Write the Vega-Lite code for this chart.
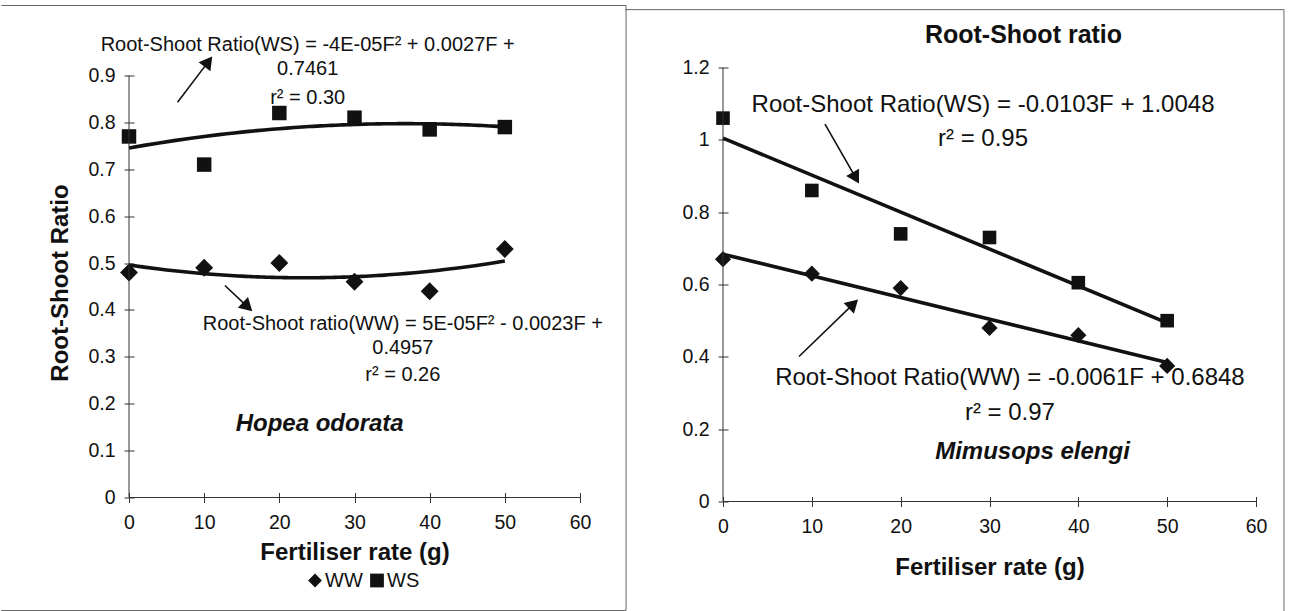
{
  "$schema": "https://vega.github.io/schema/vega-lite/v6.json",
  "padding": {"left": 0, "top": 4.5, "right": 0, "bottom": 0},
  "background": "white",
  "spacing": -3,
  "config": {
    "font": "Liberation Sans",
    "view": {"stroke": null},
    "axis": {"domain": false, "offset": -5, "tickSize": 10, "tickColor": "#333", "tickWidth": 1, "labelFontSize": 19.5, "labelColor": "#111", "labelPadding": 9, "titleColor": "#111", "titleFontSize": 24, "titleFontWeight": "bold", "grid": false, "labelFont": "Liberation Sans", "titleFont": "Liberation Sans", "labelOverlap": false, "labelFlush": false},
    "axisX": {"labelPadding": 11},
    "text": {"fontWeight": "normal"}
  },
  "resolve": {"scale": {"x": "independent", "y": "independent", "shape": "independent"}, "legend": {"shape": "independent"}},
  "hconcat": [
    {
      "width": 451,
      "height": 430,
      "data": {"values": [
        {"F": 0, "ratio": 0.48, "series": "WW"},
        {"F": 10, "ratio": 0.49, "series": "WW"},
        {"F": 20, "ratio": 0.50, "series": "WW"},
        {"F": 30, "ratio": 0.46, "series": "WW"},
        {"F": 40, "ratio": 0.44, "series": "WW"},
        {"F": 50, "ratio": 0.53, "series": "WW"},
        {"F": 0, "ratio": 0.77, "series": "WS"},
        {"F": 10, "ratio": 0.71, "series": "WS"},
        {"F": 20, "ratio": 0.82, "series": "WS"},
        {"F": 30, "ratio": 0.81, "series": "WS"},
        {"F": 40, "ratio": 0.785, "series": "WS"},
        {"F": 50, "ratio": 0.79, "series": "WS"}
      ]},
      "layer": [
        {
          "transform": [{"filter": "datum.series === 'WW'"}],
          "mark": {"type": "point", "filled": true, "opacity": 1, "color": "#111", "strokeWidth": 0, "size": 320},
          "encoding": {
            "x": {"field": "F", "type": "quantitative", "scale": {"domain": [0, 60], "nice": false, "zero": false}, "axis": {"title": "Fertiliser rate (g)", "values": [0, 10, 20, 30, 40, 50, 60], "format": "d", "titlePadding": 8}},
            "y": {"field": "ratio", "type": "quantitative", "scale": {"domain": [0, 0.91706], "nice": false, "zero": false}, "axis": {"title": "Root-Shoot Ratio", "values": [0, 0.1, 0.2, 0.3, 0.4, 0.5, 0.6, 0.7, 0.8, 0.9], "format": ".1~f", "titlePadding": 15}},
            "shape": {"field": "series", "type": "nominal", "scale": {"domain": ["WW", "WS"], "range": ["diamond", "square"]}, "legend": {"title": null, "orient": "none", "legendX": 176, "legendY": 503, "direction": "horizontal", "labelFontSize": 20, "labelFont": "Liberation Sans", "labelColor": "#111", "symbolSize": 190, "symbolFillColor": "#111", "symbolStrokeWidth": 0, "columnPadding": 4, "labelOffset": 0, "padding": 0}}
          }
        },
        {
          "transform": [{"filter": "datum.series === 'WS'"}],
          "mark": {"type": "point", "filled": true, "opacity": 1, "color": "#111", "strokeWidth": 0, "size": 210},
          "encoding": {
            "x": {"field": "F", "type": "quantitative"},
            "y": {"field": "ratio", "type": "quantitative"},
            "shape": {"field": "series", "type": "nominal"}
          }
        },
        {
          "transform": [{"regression": "ratio", "on": "F", "groupby": ["series"], "method": "poly", "order": 2, "extent": [0, 50]}],
          "mark": {"type": "line", "color": "#111", "strokeWidth": 3.6},
          "encoding": {
            "x": {"field": "F", "type": "quantitative"},
            "y": {"field": "ratio", "type": "quantitative"},
            "detail": {"field": "series"}
          }
        },
        {"data": {"values": [{}]}, "mark": {"type": "rule", "color": "#333", "strokeWidth": 1}, "encoding": {"x": {"datum": 0}, "y": {"datum": 0}, "y2": {"datum": 0.9}}},
        {"data": {"values": [{}]}, "mark": {"type": "rule", "color": "#333", "strokeWidth": 1}, "encoding": {"x": {"datum": 0}, "x2": {"datum": 60}, "y": {"datum": 0}}},
        {"data": {"values": [{}]}, "mark": {"type": "rule", "color": "#666", "strokeWidth": 1}, "encoding": {"x": {"datum": -16.98}, "x2": {"datum": 66.13}, "y": {"datum": 1.0493}}},
        {"data": {"values": [{}]}, "mark": {"type": "rule", "color": "#666", "strokeWidth": 1}, "encoding": {"x": {"datum": 66.13}, "y": {"datum": 1.0493}, "y2": {"datum": -0.241}}},
        {"data": {"values": [{}]}, "mark": {"type": "rule", "color": "#666", "strokeWidth": 1}, "encoding": {"x": {"datum": -16.98}, "x2": {"datum": 66.13}, "y": {"datum": -0.241}}},
        {"data": {"values": [{}]}, "mark": {"type": "text", "text": "Root-Shoot Ratio(WS) = -4E-05F² + 0.0027F +", "fontSize": 20, "fontWeight": "normal", "color": "#111", "align": "center", "baseline": "middle"}, "encoding": {"x": {"datum": 23.77}, "y": {"datum": 0.964}}},
        {"data": {"values": [{}]}, "mark": {"type": "text", "text": "0.7461", "fontSize": 20, "fontWeight": "normal", "color": "#111", "align": "center", "baseline": "middle"}, "encoding": {"x": {"datum": 23.77}, "y": {"datum": 0.9149}}},
        {"data": {"values": [{}]}, "mark": {"type": "text", "text": "r² = 0.30", "fontSize": 20, "fontWeight": "normal", "color": "#111", "align": "center", "baseline": "middle"}, "encoding": {"x": {"datum": 23.77}, "y": {"datum": 0.853}}},
        {"data": {"values": [{}]}, "mark": {"type": "text", "text": "Root-Shoot ratio(WW) = 5E-05F² - 0.0023F +", "fontSize": 20, "fontWeight": "normal", "color": "#111", "align": "center", "baseline": "middle"}, "encoding": {"x": {"datum": 36.43}, "y": {"datum": 0.3702}}},
        {"data": {"values": [{}]}, "mark": {"type": "text", "text": "0.4957", "fontSize": 20, "fontWeight": "normal", "color": "#111", "align": "center", "baseline": "middle"}, "encoding": {"x": {"datum": 36.43}, "y": {"datum": 0.3199}}},
        {"data": {"values": [{}]}, "mark": {"type": "text", "text": "r² = 0.26", "fontSize": 20, "fontWeight": "normal", "color": "#111", "align": "center", "baseline": "middle"}, "encoding": {"x": {"datum": 36.43}, "y": {"datum": 0.2602}}},
        {"data": {"values": [{}]}, "mark": {"type": "text", "text": "Hopea odorata", "fontSize": 24, "fontWeight": "bold", "fontStyle": "italic", "color": "#111", "align": "center", "baseline": "middle"}, "encoding": {"x": {"datum": 25.37}, "y": {"datum": 0.1578}}},
        {"data": {"values": [{}]}, "mark": {"type": "rule", "color": "#111", "strokeWidth": 1.6}, "encoding": {"x": {"datum": 6.46}, "y": {"datum": 0.843}, "x2": {"datum": 10.56}, "y2": {"datum": 0.9296}}},
        {"data": {"values": [{}]}, "mark": {"type": "point", "shape": "triangle-up", "filled": true, "opacity": 1, "color": "#111", "size": 220, "angle": 37.3, "strokeWidth": 0}, "encoding": {"x": {"datum": 10.56}, "y": {"datum": 0.9296}}},
        {"data": {"values": [{}]}, "mark": {"type": "rule", "color": "#111", "strokeWidth": 1.6}, "encoding": {"x": {"datum": 12.76}, "y": {"datum": 0.4521}, "x2": {"datum": 15.78}, "y2": {"datum": 0.4067}}},
        {"data": {"values": [{}]}, "mark": {"type": "point", "shape": "triangle-up", "filled": true, "opacity": 1, "color": "#111", "size": 220, "angle": 133.2, "strokeWidth": 0}, "encoding": {"x": {"datum": 15.78}, "y": {"datum": 0.4067}}}
      ]
    },
    {
      "width": 533,
      "height": 434,
      "title": {"text": "Root-Shoot ratio", "fontSize": 25, "fontWeight": "bold", "color": "#111", "font": "Liberation Sans", "anchor": "middle", "frame": "group", "dx": 34, "offset": -42},
      "data": {"values": [
        {"F": 0, "ratio": 0.67, "series": "WW"},
        {"F": 10, "ratio": 0.63, "series": "WW"},
        {"F": 20, "ratio": 0.59, "series": "WW"},
        {"F": 30, "ratio": 0.48, "series": "WW"},
        {"F": 40, "ratio": 0.46, "series": "WW"},
        {"F": 50, "ratio": 0.375, "series": "WW"},
        {"F": 0, "ratio": 1.06, "series": "WS"},
        {"F": 10, "ratio": 0.86, "series": "WS"},
        {"F": 20, "ratio": 0.74, "series": "WS"},
        {"F": 30, "ratio": 0.73, "series": "WS"},
        {"F": 40, "ratio": 0.605, "series": "WS"},
        {"F": 50, "ratio": 0.50, "series": "WS"}
      ]},
      "layer": [
        {
          "transform": [{"filter": "datum.series === 'WW'"}],
          "mark": {"type": "point", "filled": true, "opacity": 1, "color": "#111", "strokeWidth": 0, "size": 260},
          "encoding": {
            "x": {"field": "F", "type": "quantitative", "scale": {"domain": [0, 60], "nice": false, "zero": false}, "axis": {"title": "Fertiliser rate (g)", "values": [0, 10, 20, 30, 40, 50, 60], "format": "d", "titlePadding": 19}},
            "y": {"field": "ratio", "type": "quantitative", "scale": {"domain": [0, 1.2], "nice": false, "zero": false}, "axis": {"title": null, "values": [0, 0.2, 0.4, 0.6, 0.8, 1, 1.2], "format": ".1~f"}},
            "shape": {"field": "series", "type": "nominal", "scale": {"domain": ["WW", "WS"], "range": ["diamond", "square"]}, "legend": null}
          }
        },
        {
          "transform": [{"filter": "datum.series === 'WS'"}],
          "mark": {"type": "point", "filled": true, "opacity": 1, "color": "#111", "strokeWidth": 0, "size": 185},
          "encoding": {
            "x": {"field": "F", "type": "quantitative"},
            "y": {"field": "ratio", "type": "quantitative"},
            "shape": {"field": "series", "type": "nominal", "legend": null}
          }
        },
        {
          "transform": [{"regression": "ratio", "on": "F", "groupby": ["series"], "method": "linear", "extent": [0, 50]}],
          "mark": {"type": "line", "color": "#111", "strokeWidth": 3.6},
          "encoding": {
            "x": {"field": "F", "type": "quantitative"},
            "y": {"field": "ratio", "type": "quantitative"},
            "detail": {"field": "series"}
          }
        },
        {"data": {"values": [{}]}, "mark": {"type": "rule", "color": "#333", "strokeWidth": 1}, "encoding": {"x": {"datum": 0}, "y": {"datum": 0}, "y2": {"datum": 1.2}}},
        {"data": {"values": [{}]}, "mark": {"type": "rule", "color": "#333", "strokeWidth": 1}, "encoding": {"x": {"datum": 0}, "x2": {"datum": 60}, "y": {"datum": 0}}},
        {"data": {"values": [{}]}, "mark": {"type": "rule", "color": "#666", "strokeWidth": 1}, "encoding": {"x": {"datum": -11.03}, "x2": {"datum": 63.15}, "y": {"datum": 1.36}}},
        {"data": {"values": [{}]}, "mark": {"type": "rule", "color": "#666", "strokeWidth": 1}, "encoding": {"x": {"datum": 63.15}, "y": {"datum": 1.36}, "y2": {"datum": -0.315}}},
        {"data": {"values": [{}]}, "mark": {"type": "rule", "color": "#666", "strokeWidth": 1, "strokeOpacity": 0}, "encoding": {"x": {"datum": 63.15}, "y": {"datum": 1.371}, "y2": {"datum": 1.36}}},
        {"data": {"values": [{}]}, "mark": {"type": "text", "text": "Root-Shoot Ratio(WS) = -0.0103F + 1.0048", "fontSize": 24, "fontWeight": "normal", "color": "#111", "align": "center", "baseline": "middle"}, "encoding": {"x": {"datum": 29.27}, "y": {"datum": 1.0976}}},
        {"data": {"values": [{}]}, "mark": {"type": "text", "text": "r² = 0.95", "fontSize": 24, "fontWeight": "normal", "color": "#111", "align": "center", "baseline": "middle"}, "encoding": {"x": {"datum": 29.27}, "y": {"datum": 1.0022}}},
        {"data": {"values": [{}]}, "mark": {"type": "text", "text": "Root-Shoot Ratio(WW) = -0.0061F + 0.6848", "fontSize": 24, "fontWeight": "normal", "color": "#111", "align": "center", "baseline": "middle"}, "encoding": {"x": {"datum": 32.3}, "y": {"datum": 0.3428}}},
        {"data": {"values": [{}]}, "mark": {"type": "text", "text": "r² = 0.97", "fontSize": 24, "fontWeight": "normal", "color": "#111", "align": "center", "baseline": "middle"}, "encoding": {"x": {"datum": 32.3}, "y": {"datum": 0.2447}}},
        {"data": {"values": [{}]}, "mark": {"type": "text", "text": "Mimusops elengi", "fontSize": 24, "fontWeight": "bold", "fontStyle": "italic", "color": "#111", "align": "center", "baseline": "middle"}, "encoding": {"x": {"datum": 34.84}, "y": {"datum": 0.1355}}},
        {"data": {"values": [{}]}, "mark": {"type": "rule", "color": "#111", "strokeWidth": 1.6}, "encoding": {"x": {"datum": 11.48}, "y": {"datum": 1.0437}, "x2": {"datum": 14.95}, "y2": {"datum": 0.8947}}},
        {"data": {"values": [{}]}, "mark": {"type": "point", "shape": "triangle-up", "filled": true, "opacity": 1, "color": "#111", "size": 220, "angle": 150.3, "strokeWidth": 0}, "encoding": {"x": {"datum": 14.95}, "y": {"datum": 0.8947}}},
        {"data": {"values": [{}]}, "mark": {"type": "rule", "color": "#111", "strokeWidth": 1.6}, "encoding": {"x": {"datum": 8.556}, "y": {"datum": 0.4009}, "x2": {"datum": 14.68}, "y2": {"datum": 0.5463}}},
        {"data": {"values": [{}]}, "mark": {"type": "point", "shape": "triangle-up", "filled": true, "opacity": 1, "color": "#111", "size": 220, "angle": 46, "strokeWidth": 0}, "encoding": {"x": {"datum": 14.68}, "y": {"datum": 0.5463}}}
      ]
    }
  ]
}
